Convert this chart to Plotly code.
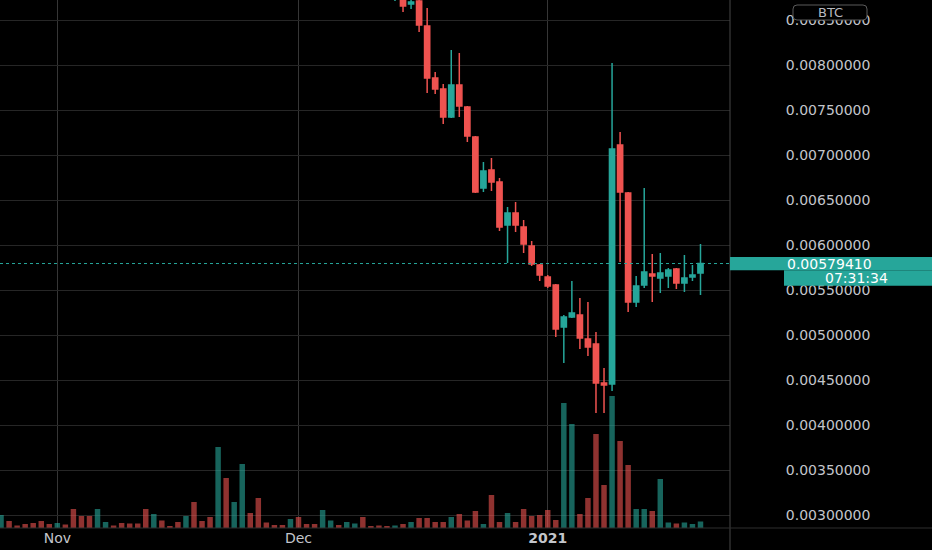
import pandas as pd
import plotly.graph_objects as go

# daily candles that are visible in the window (earlier ones sit above the top edge)
candle_dates = [
    '2020-12-13', '2020-12-14', '2020-12-15', '2020-12-16', '2020-12-17', '2020-12-18',
    '2020-12-19', '2020-12-20', '2020-12-21', '2020-12-22', '2020-12-23', '2020-12-24',
    '2020-12-25', '2020-12-26', '2020-12-27', '2020-12-28', '2020-12-29', '2020-12-30',
    '2020-12-31', '2021-01-01', '2021-01-02', '2021-01-03', '2021-01-04', '2021-01-05',
    '2021-01-06', '2021-01-07', '2021-01-08', '2021-01-09', '2021-01-10', '2021-01-11',
    '2021-01-12', '2021-01-13', '2021-01-14', '2021-01-15', '2021-01-16', '2021-01-17',
    '2021-01-18', '2021-01-19', '2021-01-20',
]
opens = [
    0.008767, 0.008811, 0.008678, 0.008711, 0.008433, 0.007856,
    0.007733, 0.007422, 0.007778, 0.007533, 0.007200, 0.006633,
    0.006833, 0.006700, 0.006222, 0.006356, 0.006200, 0.005989,
    0.005778, 0.005644, 0.005556, 0.005089, 0.005200, 0.005222,
    0.004956, 0.004900, 0.004467, 0.004456, 0.007111, 0.006578,
    0.005367, 0.005556, 0.005678, 0.005633, 0.005656, 0.005733,
    0.005578, 0.005644, 0.005689,
]
highs = [
    0.009000, 0.008889, 0.008744, 0.008733, 0.008633, 0.007922,
    0.007789, 0.008167, 0.008133, 0.007544, 0.007211, 0.006922,
    0.006967, 0.006744, 0.006422, 0.006478, 0.006278, 0.006044,
    0.005789, 0.005667, 0.005567, 0.005222, 0.005600, 0.005411,
    0.005367, 0.005033, 0.004633, 0.008022, 0.007256, 0.006589,
    0.005656, 0.006633, 0.005900, 0.005911, 0.005744, 0.005744,
    0.005889, 0.005778, 0.006011,
]
lows = [
    0.008711, 0.008589, 0.008622, 0.008367, 0.007689, 0.007678,
    0.007344, 0.007411, 0.007422, 0.007144, 0.006578, 0.006589,
    0.006600, 0.006156, 0.005800, 0.006144, 0.005911, 0.005767,
    0.005600, 0.005522, 0.004978, 0.004689, 0.005189, 0.004844,
    0.004767, 0.004133, 0.004133, 0.004378, 0.005811, 0.005256,
    0.005311, 0.005522, 0.005367, 0.005467, 0.005522, 0.005511,
    0.005478, 0.005600, 0.005444,
]
closes = [
    0.008889, 0.008656, 0.008700, 0.008444, 0.007856, 0.007733,
    0.007422, 0.007778, 0.007544, 0.007211, 0.006589, 0.006822,
    0.006700, 0.006200, 0.006356, 0.006222, 0.006011, 0.005789,
    0.005667, 0.005544, 0.005067, 0.005200, 0.005244, 0.004967,
    0.004867, 0.004467, 0.004444, 0.007067, 0.006589, 0.005367,
    0.005544, 0.005700, 0.005656, 0.005689, 0.005722, 0.005578,
    0.005633, 0.005667, 0.0057941,
]

# volume for every day from Oct 25 to Jan 20, and whether the day closed up
vol_start = '2020-10-25'
volumes = [
    130, 70, 25, 40, 50, 70, 40,
    50, 35, 190, 120, 120, 190, 60, 25, 50, 45, 45, 190, 140, 75, 20, 60,
    120, 260, 70, 110, 810, 500, 260, 640, 150, 300, 55, 30, 30, 90,
    110, 40, 40, 180, 75, 30, 60, 45, 110, 20, 25, 20, 25, 40, 60, 100,
    100, 60, 60, 110, 140, 75, 170, 40, 330, 60, 150, 60, 190, 120, 130,
    180, 80, 1250, 1040, 140, 300, 940, 430, 1320, 870, 630, 190, 190, 170,
    490, 55, 45, 55, 40, 65,
]
vol_up = [
    1, 0, 0, 0, 0, 0, 0,
    1, 0, 0, 0, 0, 1, 1, 0, 0, 0, 0, 0, 1, 0, 0, 0,
    1, 0, 0, 0, 1, 0, 1, 1, 0, 0, 0, 0, 0, 1,
    0, 0, 0, 1, 1, 0, 1, 1, 0, 0, 0, 0, 1, 0, 1, 0,
    0, 0, 0, 1, 0, 0, 0, 1, 0, 0, 1, 0, 0, 0, 0,
    0, 0, 1, 1, 0, 0, 0, 0, 1, 0, 0, 1, 1, 0,
    1, 1, 0, 1, 1, 1,
]

last_price = closes[-1]
countdown = '07:31:34'
symbol = 'BTC'

vol_dates = pd.date_range(vol_start, periods=len(volumes), freq='D')

UP = '#26a69a'
DOWN = '#ef5350'
vol_colors = ['rgba(38,166,154,0.6)' if u else 'rgba(239,83,80,0.6)' for u in vol_up]

W, H = 932, 550
PL, PR, PB = 0, 202, 22   # plot area 730 x 528
pw = W - PL - PR
ph = H - PB


def px(x):
    return x / pw


def py(y):
    return 1 - y / ph


def rounded_box(x0, y0, x1, y1, r=4):
    # rounded rectangle path in paper units, from pixel corners
    return (
        f'M {px(x0 + r)} {py(y0)} L {px(x1 - r)} {py(y0)} '
        f'Q {px(x1)} {py(y0)} {px(x1)} {py(y0 + r)} L {px(x1)} {py(y1 - r)} '
        f'Q {px(x1)} {py(y1)} {px(x1 - r)} {py(y1)} L {px(x0 + r)} {py(y1)} '
        f'Q {px(x0)} {py(y1)} {px(x0)} {py(y1 - r)} L {px(x0)} {py(y0 + r)} '
        f'Q {px(x0)} {py(y0)} {px(x0 + r)} {py(y0)} Z'
    )


fig = go.Figure()

fig.add_trace(go.Bar(
    x=vol_dates, y=volumes, yaxis='y2',
    marker=dict(color=vol_colors, line=dict(width=0)),
    width=0.68 * 86400000, showlegend=False, hoverinfo='skip',
))

fig.add_trace(go.Candlestick(
    x=candle_dates, open=opens, high=highs, low=lows, close=closes,
    increasing=dict(line=dict(color=UP, width=1.5), fillcolor=UP),
    decreasing=dict(line=dict(color=DOWN, width=1.5), fillcolor=DOWN),
    whiskerwidth=0, showlegend=False,
))

axis_font = dict(family='DejaVu Sans', size=14, color='#c3c5cb')

fig.update_layout(
    width=W, height=H,
    margin=dict(l=PL, r=PR, t=0, b=PB, autoexpand=False),
    paper_bgcolor='#000000', plot_bgcolor='#000000',
    boxgap=0.2, boxgroupgap=0.19,
    xaxis=dict(
        type='date',
        range=['2020-10-24 20:53', '2021-01-23 16:05'],
        tickvals=['2020-11-01', '2020-12-01', '2021-01-01'],
        ticktext=['Nov', 'Dec', '<b>2021</b>'],
        tickfont=axis_font, ticks='',
        showgrid=True, gridcolor='#363636', gridwidth=1,
        zeroline=False, showline=False,
        rangeslider=dict(visible=False),
    ),
    yaxis=dict(
        side='right',
        range=[0.0028556, 0.0087222],
        dtick=0.0005, tick0=0, tickformat='.8f',
        tickfont=axis_font,
        ticks='outside', ticklen=52, tickcolor='rgba(0,0,0,0)',
        showgrid=True, gridcolor='#262626', gridwidth=1,
        zeroline=False, showline=False,
    ),
    yaxis2=dict(
        overlaying='y', range=[0, 5280], visible=False, showgrid=False,
    ),
    shapes=[
        # price axis separator and time axis separator
        dict(type='line', xref='paper', yref='paper', x0=1, x1=1, y0=-PB / ph, y1=1,
             line=dict(color='#474747', width=1)),
        dict(type='line', xref='paper', yref='paper', x0=0, x1=W / pw, y0=0, y1=0,
             line=dict(color='#2e2e2e', width=1)),
        # last price line
        dict(type='line', xref='paper', yref='y', x0=0, x1=1, y0=last_price, y1=last_price,
             line=dict(color=UP, width=1, dash='dot')),
        # last price badge and countdown badge
        dict(type='rect', xref='paper', yref='y', x0=1, x1=W / pw,
             ysizemode='pixel', yanchor=last_price, y0=-6.7, y1=6.6,
             fillcolor=UP, line=dict(width=0), layer='above'),
        dict(type='rect', xref='paper', yref='y', x0=px(784), x1=W / pw,
             ysizemode='pixel', yanchor=last_price, y0=-22.3, y1=-6.7,
             fillcolor=UP, line=dict(width=0), layer='above'),
        # symbol tag
        dict(type='path', xref='paper', yref='paper', path=rounded_box(793, 5, 867, 20),
             fillcolor='#000000', line=dict(color='#5a5a5a', width=1), layer='above'),
    ],
    annotations=[
        dict(xref='paper', yref='y', x=px(829), y=last_price, text=f'{last_price:.8f}',
             showarrow=False, xanchor='center', yanchor='middle',
             font=dict(family='DejaVu Sans', size=14, color='#ffffff')),
        dict(xref='paper', yref='y', x=px(857), y=last_price, yshift=-14.5, text=countdown,
             showarrow=False, xanchor='center', yanchor='middle',
             font=dict(family='DejaVu Sans', size=14, color='#ffffff')),
        dict(xref='paper', yref='paper', x=px(830), y=py(12.5), text=symbol,
             showarrow=False, xanchor='center', yanchor='middle',
             font=dict(family='DejaVu Sans', size=13, color='#b8bac0')),
    ],
)

fig.write_html('out.html', config={'displayModeBar': False},
               post_script="document.body.style.margin = '0';")
